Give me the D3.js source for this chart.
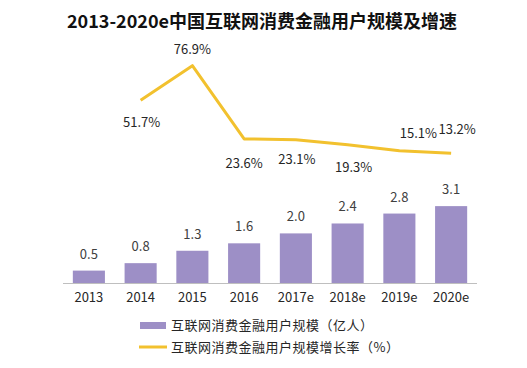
<!DOCTYPE html>
<html>
<head>
<meta charset="utf-8">
<script src="https://cdn.jsdelivr.net/npm/d3@7"></script>
<style>
  body { margin: 0; background: #fff; }
  text { font-family: "Noto Sans CJK SC", "Noto Sans", sans-serif; }
</style>
</head>
<body>
<div id="chart"></div>
<script>
var years = ["2013", "2014", "2015", "2016", "2017e", "2018e", "2019e", "2020e"];
var users = [0.5, 0.8, 1.3, 1.6, 2.0, 2.4, 2.8, 3.1];
var growth = [null, 51.7, 76.9, 23.6, 23.1, 19.3, 15.1, 13.2];
// where each growth label sits relative to its point: [dx, dy]
var growthLabelPos = [null, [1, 22], [0, -16], [0, 24], [1, 20], [6, 23], [19, -17], [6, -24]];

var titleText = "2013-2020e中国互联网消费金融用户规模及增速";
var legendNames = ["互联网消费金融用户规模（亿人）", "互联网消费金融用户规模增长率（%）"];

var props = { width: 527, height: 368, barColor: "#9d8fc6", lineColor: "#f2c12e" };

var svg = d3.select("#chart").append("svg")
  .attr("width", props.width).attr("height", props.height);

svg.append("text")
  .attr("x", 262).attr("y", 28)
  .attr("text-anchor", "middle")
  .style("font-size", "18px").style("font-weight", "bold").style("fill", "#111")
  .text(titleText);

var x = d3.scaleBand().domain(years).range([63, 477]).paddingInner(0.38).paddingOuter(0.19);
var yBar = d3.scaleLinear().domain([0, 4]).range([283, 283 - 99.2]);
var yLine = d3.scaleLinear().domain([0, 80]).range([171.4, 61.4]);

// bars
svg.selectAll(".bar").data(years).enter().append("rect")
  .attr("class", "bar")
  .attr("x", function(d){ return x(d); })
  .attr("width", x.bandwidth())
  .attr("y", function(d, i){ return yBar(users[i]); })
  .attr("height", function(d, i){ return yBar(0) - yBar(users[i]); })
  .style("fill", props.barColor);

svg.selectAll(".bar-label").data(years).enter().append("text")
  .attr("class", "bar-label")
  .attr("x", function(d){ return x(d) + x.bandwidth() / 2; })
  .attr("y", function(d, i){ return yBar(users[i]) - 12; })
  .attr("text-anchor", "middle")
  .style("font-size", "13px").style("fill", "#404040")
  .text(function(d, i){ return users[i].toFixed(1); });

// axis
var xAxis = svg.append("g").attr("transform", "translate(0,283)")
  .call(d3.axisBottom(x).tickSize(0).tickPadding(10));
xAxis.select(".domain").attr("d", "M63,0.5H477").style("stroke", "#bfbfbf");
xAxis.selectAll("text")
  .style("font-family", "\"Noto Sans CJK SC\", sans-serif")
  .style("font-size", "13px").style("fill", "#262626");

// growth line
var pts = years.map(function(d, i){ return { year: d, v: growth[i], pos: growthLabelPos[i] }; })
  .filter(function(d){ return d.v != null; });

var lineGen = d3.line()
  .x(function(d){ return x(d.year) + x.bandwidth() / 2; })
  .y(function(d){ return yLine(d.v); });

svg.append("path").datum(pts)
  .attr("d", lineGen)
  .style("fill", "none")
  .style("stroke", props.lineColor)
  .style("stroke-width", 3)
  .style("stroke-linejoin", "round");

svg.selectAll(".line-label").data(pts).enter().append("text")
  .attr("class", "line-label")
  .attr("x", function(d){ return x(d.year) + x.bandwidth() / 2 + d.pos[0]; })
  .attr("y", function(d){ return yLine(d.v) + d.pos[1]; })
  .attr("dy", "0.35em")
  .attr("text-anchor", "middle")
  .style("font-size", "13px").style("fill", "#262626")
  .text(function(d){ return d.v.toFixed(1) + "%"; });

// legend
var legend = svg.append("g").attr("transform", "translate(139,325)");
legend.append("rect").attr("x", 1).attr("y", -3).attr("width", 26).attr("height", 7)
  .style("fill", props.barColor);
legend.append("line").attr("x1", 0).attr("x2", 28).attr("y1", 22).attr("y2", 22)
  .style("stroke", props.lineColor).style("stroke-width", 3);
legend.selectAll(".legend-text").data(legendNames).enter().append("text")
  .attr("class", "legend-text")
  .attr("x", 32)
  .attr("y", function(d, i){ return i * 22; })
  .attr("dy", "0.35em")
  .style("font-size", "13px").style("letter-spacing", "0.5px").style("fill", "#262626")
  .text(function(d){ return d; });
</script>
</body>
</html>
